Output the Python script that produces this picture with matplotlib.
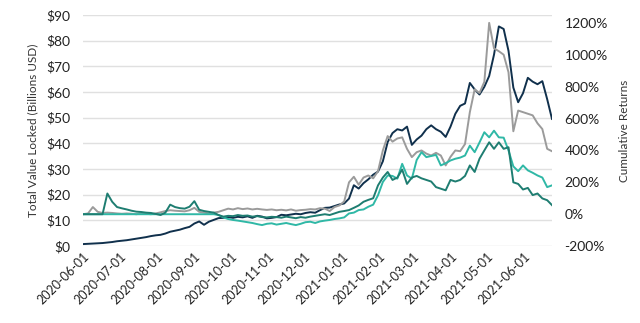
import matplotlib
matplotlib.use("Agg")
import matplotlib.pyplot as plt
import matplotlib.dates as mdates
import matplotlib.ticker as mticker
import numpy as np
import pandas as pd

# sampled every 4 days from 2020-06-01
dates = pd.date_range("2020-06-01", periods=98, freq="4D")

# total value locked, billions USD (left axis)
tvl = [0.8, 0.9, 1.0, 1.1, 1.2, 1.4, 1.6, 1.9, 2.1, 2.3,
       2.6, 2.9, 3.2, 3.5, 3.9, 4.2, 4.4, 4.9, 5.6, 6.0,
       6.4, 7.0, 7.5, 8.8, 9.6, 8.3, 9.5, 10.2, 10.9, 11.0,
       11.3, 11.0, 11.4, 11.2, 11.6, 11.0, 11.8, 11.5, 10.8, 11.0,
       11.3, 12.2, 12.0, 12.3, 12.6, 12.4, 12.9, 13.2, 13.0, 14.0,
       14.9, 15.0, 15.6, 16.2, 16.6, 18.5, 23.7, 22.4, 24.5, 26.0,
       27.8, 29.0, 33.0, 40.5, 44.0, 45.5, 45.0, 46.5, 39.4, 41.5,
       43.0, 45.5, 47.0, 45.5, 44.5, 42.5, 46.5, 51.5, 54.6, 55.5,
       63.5, 61.0, 59.0, 62.0, 66.2, 74.5, 85.5, 84.5, 76.0, 61.7,
       56.0, 59.5, 65.5, 64.0, 63.0, 64.2, 57.2, 49.5]

# cumulative returns, % (right axis)
ret_gray = [0, 5, 45, 15, 8, 10, 8, 5, 3, 5,
            3, 0, 5, 3, 0, 5, 12, 20, 25, 22,
            20, 18, 25, 40, 15, 10, 5, 10, 15, 25,
            35, 30, 38, 32, 36, 30, 34, 30, 27, 30,
            25, 28, 24, 30, 22, 26, 28, 32, 30, 38,
            35, 20, 45, 55, 80, 200, 235, 185, 230, 243,
            225, 270, 400, 490, 455, 475, 482, 410, 358, 389,
            400, 380, 368, 385, 368, 306, 360, 400, 395, 440,
            640, 783, 760, 830, 1200, 1040, 1022, 1000, 890, 520,
            650, 640, 630, 620, 570, 534, 410, 395]

ret_light = [0, 0, 0, 0, 0, 0, 0, 0, 0, 0,
             0, 0, 0, 0, 0, 0, 0, 0, 0, 0,
             0, 0, 0, 0, 0, 0, 0, 0, -5, -20,
             -30, -36, -40, -45, -50, -55, -62, -68, -60, -57,
             -65, -60, -55, -62, -68, -60, -50, -47, -55, -45,
             -40, -36, -30, -26, -20, 5, 10, 26, 30, 47,
             60, 119, 202, 243, 240, 223, 316, 243, 223, 340,
             389, 358, 365, 372, 306, 320, 337, 348, 355, 368,
             430, 389, 450, 514, 482, 524, 482, 480, 400, 300,
             270, 306, 275, 260, 243, 230, 170, 181]

ret_dark = [0, 0, 0, 0, 0, 130, 78, 45, 37, 30,
            22, 16, 14, 10, 8, 2, -5, 10, 60, 45,
            38, 35, 47, 82, 28, 20, 15, 10, -5, -15,
            -10, -12, -5, -10, -8, -15, -12, -18, -20, -16,
            -18, -22, -15, -20, -25, -18, -22, -15, -10, -5,
            0, -5, 5, 15, 20, 26, 40, 55, 78, 90,
            100, 181, 230, 265, 215, 230, 280, 190, 230, 240,
            225, 215, 205, 170, 160, 150, 215, 205, 215, 240,
            306, 265, 348, 400, 451, 410, 451, 410, 420, 200,
            190, 155, 165, 120, 130, 99, 88, 57]

NAVY = "#10304c"
GRAY = "#9b9b9b"
LIGHT_TEAL = "#2fb8a6"
DARK_TEAL = "#1e7d71"

fig = plt.figure(figsize=(6.4, 3.23), dpi=100)
ax = fig.add_axes([0.13, 0.238, 0.7325, 0.716])
ax2 = ax.twinx()

ax.plot(dates, tvl, color=NAVY, lw=1.4, zorder=3)
ax2.plot(dates, ret_gray, color=GRAY, lw=1.4)
ax2.plot(dates, ret_light, color=LIGHT_TEAL, lw=1.4)
ax2.plot(dates, ret_dark, color=DARK_TEAL, lw=1.4)

ax.set_xlim(dates[0], dates[-1])
ax.set_ylim(0, 90)
ax.set_yticks(np.arange(0, 91, 10))
ax.yaxis.set_major_formatter(mticker.FuncFormatter(lambda v, p: "$%d" % v))
ax2.set_ylim(-200, 1250)
ax2.set_yticks(np.arange(-200, 1201, 200))
ax2.yaxis.set_major_formatter(mticker.FuncFormatter(lambda v, p: "%d%%" % v))

ax.grid(axis="y", color="#e0e0e0", lw=1.0)
ax.set_axisbelow(True)

for a in (ax, ax2):
    for s in a.spines.values():
        s.set_visible(False)
    a.tick_params(length=0)

ax.tick_params(axis="y", pad=9, labelsize=10, labelcolor="#222222")
ax2.tick_params(axis="y", pad=9, labelsize=10, labelcolor="#222222")
for lbl in ax.get_yticklabels() + ax2.get_yticklabels():
    lbl.set_fontfamily("Lato")

months = pd.date_range("2020-06-01", "2021-06-01", freq="MS")
ax.set_xticks(months)
ax.xaxis.set_major_formatter(mdates.DateFormatter("%Y-%m-%d"))
ax.tick_params(axis="x", pad=3)
for lbl in ax.get_xticklabels():
    lbl.set_rotation(45)
    lbl.set_ha("right")
    lbl.set_rotation_mode("anchor")
    lbl.set_fontsize(9)
    lbl.set_fontfamily("Lato")
    lbl.set_color("#222222")

ax.set_ylabel("Total Value Locked (Billions USD)", fontsize=8.5,
              fontfamily="Lato", color="#333333", labelpad=6)
ax2.set_ylabel("Cumulative Returns", fontsize=8.5,
               fontfamily="Lato", color="#333333", labelpad=8)

fig.savefig("out.png", dpi=100, facecolor="white")
